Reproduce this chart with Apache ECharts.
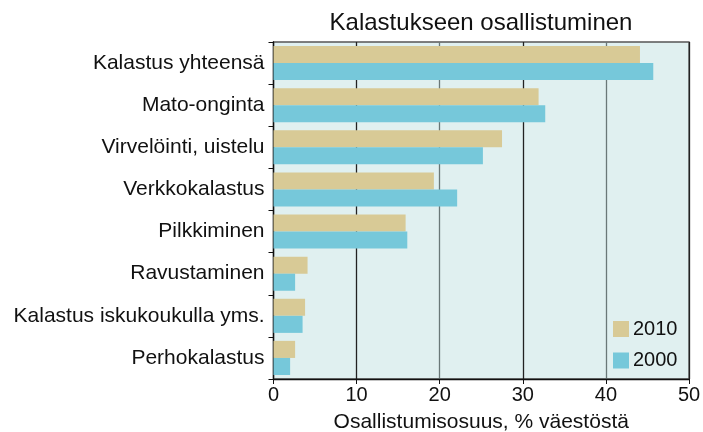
<!DOCTYPE html>
<html><head><meta charset="utf-8">
<script src="https://cdn.jsdelivr.net/npm/echarts@6/dist/echarts.min.js"></script>
<style>html,body{margin:0;padding:0;background:#fff}#c{width:703px;height:432px}</style>
</head><body><div id="c"></div>
<script>
const categories = ["Kalastus yhteensä","Mato-onginta","Virvelöinti, uistelu","Verkkokalastus","Pilkkiminen","Ravustaminen","Kalastus iskukoukulla yms.","Perhokalastus"];
const values2010 = [44.1, 31.9, 27.5, 19.3, 15.9, 4.1, 3.8, 2.6];
const values2000 = [45.7, 32.7, 25.2, 22.1, 16.1, 2.6, 3.5, 2.0];
const xTicks = [0, 10, 20, 30, 40, 50];
const F = "'Liberation Sans', Arial, Helvetica, sans-serif";
const chart = echarts.init(document.getElementById('c'));
chart.setOption({
  animation:false,
  title:{text:'Kalastukseen osallistuminen', left:476, top:6, textAlign:'center',
    textStyle:{fontFamily:F, fontSize:24, fontWeight:'normal', color:'#111'}},
  grid:{left:273.5, right:14, top:42, bottom:53, show:true, backgroundColor:'#e0f0f0', borderColor:'#555', borderWidth:1.3,
    containLabel:false, outerBoundsMode:'none'},
  legend:{data:['2010','2000'], orient:'vertical', left:608, top:314, itemWidth:16, itemHeight:16, itemGap:11.5,
    icon:'rect', textStyle:{fontFamily:F, fontSize:20, lineHeight:16, color:'#111', padding:[0,0,0,-1]}},
  xAxis:{type:'value', min:xTicks[0], max:xTicks[xTicks.length-1], interval:10,
    axisLine:{show:true, lineStyle:{color:'#111', width:1.3}},
    axisTick:{show:true, length:5, lineStyle:{color:'#111'}},
    axisLabel:{fontFamily:F, fontSize:20, color:'#111', margin:6},
    splitLine:{show:true, lineStyle:{color:['#6a7878','#222'], width:1.3}},
    name:'Osallistumisosuus, % väestöstä', nameLocation:'middle', nameGap:33,
    nameTextStyle:{fontFamily:F, fontSize:21, color:'#111'}},
  yAxis:{type:'category', data:categories, inverse:true,
    axisLine:{show:true, lineStyle:{color:'#111', width:1.3}},
    axisTick:{show:true, length:5, lineStyle:{color:'#111'}},
    axisLabel:{fontFamily:F, fontSize:21, color:'#111', margin:9},
    splitLine:{show:false}},
  series:[
    {name:'2010', type:'bar', data:values2010, barGap:'0%', barCategoryGap:'19%', itemStyle:{color:'#d8ca96'}},
    {name:'2000', type:'bar', data:values2000, barGap:'0%', barCategoryGap:'19%', itemStyle:{color:'#76c8da'}}
  ]
});
</script></body></html>
